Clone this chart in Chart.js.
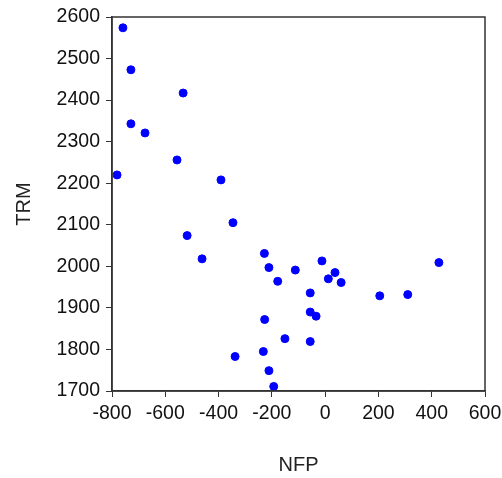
<!DOCTYPE html>
<html>
<head>
<meta charset="utf-8">
<script src="https://cdn.jsdelivr.net/npm/chart.js@4/dist/chart.umd.min.js"></script>
<style>
  html, body { margin: 0; padding: 0; background: #fff; }
  #wrap { width: 502px; height: 478px; }
</style>
</head>
<body>
<div id="wrap"><canvas id="chart"></canvas></div>
<script>
// NFP vs TRM scatter
const nfp = [-759, -729, -533, -729, -676, -556, -781, -391, -518, -346, -462, -338,
  -228, -211, -178, -112, -12, 37, 12, 60, -56, -56, -34, -227, -151, -56, -232, -211, -193,
  205, 310, 427];
const trm = [2574, 2473, 2417, 2343, 2321, 2256, 2220, 2208, 2074, 2105, 2018, 1783,
  2031, 1997, 1964, 1991, 2013, 1985, 1970, 1961, 1936, 1890, 1880, 1872, 1826, 1819, 1795, 1749, 1711,
  1929, 1932, 2009];

const xTitle = 'NFP';
const yTitle = 'TRM';

const points = nfp.map((x, i) => ({ x: x, y: trm[i] }));

// draws the top/right frame so the plot is boxed
const frame = {
  id: 'frame',
  afterDraw(chart) {
    const { ctx, chartArea: a } = chart;
    ctx.save();
    ctx.strokeStyle = '#333';
    ctx.lineWidth = 1.5;
    ctx.strokeRect(a.left, a.top, a.right - a.left, a.bottom - a.top);
    ctx.restore();
  }
};

const tickFont = { family: 'Liberation Sans, Arial, sans-serif', size: 19.5 };
const titleFont = { family: 'Liberation Sans, Arial, sans-serif', size: 20 };
const plain = v => String(v); // no thousands separator

new Chart(document.getElementById('chart'), {
  type: 'scatter',
  data: {
    datasets: [{
      data: points,
      backgroundColor: '#0000ff',
      borderColor: '#0000ff',
      pointRadius: 4,
      pointHoverRadius: 4
    }]
  },
  options: {
    responsive: true,
    maintainAspectRatio: false,
    animation: false,
    layout: { padding: { top: 17, right: 17, bottom: 0, left: 0 } },
    plugins: { legend: { display: false }, tooltip: { enabled: false } },
    scales: {
      x: {
        min: -800, max: 600,
        ticks: { stepSize: 200, color: '#111', font: tickFont, padding: 5, maxRotation: 0, callback: plain },
        grid: { drawOnChartArea: false, color: '#333', tickLength: 6 },
        border: { color: '#333', width: 1.5 },
        title: { display: true, text: xTitle, color: '#222', font: titleFont, padding: { top: 0, bottom: 1 } },
        afterFit(s) { s.height = 87; s.paddingLeft = 0; s.paddingRight = 0; }
      },
      y: {
        min: 1700, max: 2600,
        ticks: { stepSize: 100, color: '#111', font: tickFont, padding: 6, callback: plain },
        grid: { drawOnChartArea: false, color: '#333', tickLength: 6 },
        border: { color: '#333', width: 1.5 },
        title: { display: true, text: yTitle, color: '#222', font: titleFont, padding: { top: 12, bottom: 0 } },
        afterFit(s) { s.width = 112; s.paddingTop = 0; s.paddingBottom = 0; }
      }
    }
  },
  plugins: [frame]
});
</script>
</body>
</html>
